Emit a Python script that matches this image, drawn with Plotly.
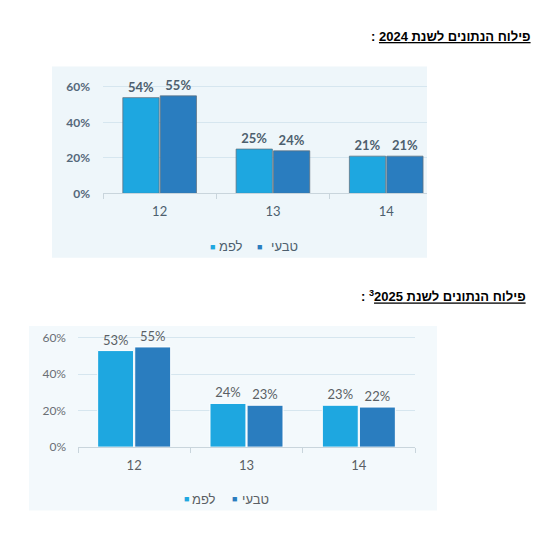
import plotly.graph_objects as go

# data
categories = ["12", "13", "14"]
series_names = ["לפמ", "טבעי"]
lapam_2024 = [54, 25, 21]
tivi_2024 = [55, 24, 21]
lapam_2025 = [53, 24, 23]
tivi_2025 = [55, 23, 22]
y_ticks = [0, 20, 40, 60]
y_ticklabels = ["0%", "20%", "40%", "60%"]
title_2024 = "פילוח הנתונים לשנת 2024"
title_2025 = "פילוח הנתונים לשנת 2025"
footnote_2025 = "3"

W, H = 551, 540
LIGHT = "#1ea7e0"
DARK = "#2a7dbf"
FONT = "Lato, 'Liberation Sans', sans-serif"


def px(x):
    return x / W


def py(y):
    return 1 - y / H


fig = go.Figure()

top_style = dict(label_color="#4d5f6e", line="rgba(95,112,126,0.75)")
bot_style = dict(label_color="#5a5f64", line="white")

# top chart (2024)
for vals, name, color in [(lapam_2024, series_names[0], LIGHT), (tivi_2024, series_names[1], DARK)]:
    fig.add_trace(go.Bar(
        x=categories, y=vals, name=name, marker_color=color,
        marker_line=dict(color=top_style["line"], width=1),
        text=[f"<b>{v}%</b>" for v in vals], textposition="outside",
        textfont=dict(family=FONT, size=13, color=top_style["label_color"]),
        cliponaxis=False, xaxis="x", yaxis="y", showlegend=False,
    ))

# bottom chart (2025)
for vals, name, color in [(lapam_2025, series_names[0], LIGHT), (tivi_2025, series_names[1], DARK)]:
    fig.add_trace(go.Bar(
        x=categories, y=vals, name=name, marker_color=color,
        marker_line=dict(color=bot_style["line"], width=1),
        text=[f"{v}%" for v in vals], textposition="outside",
        textfont=dict(family=FONT, size=13, color=bot_style["label_color"]),
        cliponaxis=False, xaxis="x2", yaxis="y2", showlegend=False,
    ))

# panel backgrounds
shapes = [
    dict(type="rect", xref="paper", yref="paper", x0=px(52), x1=px(427), y0=py(258), y1=py(62),
         fillcolor="#eef6fa", line_width=0, layer="below"),
    dict(type="rect", xref="paper", yref="paper", x0=px(29), x1=px(437), y0=py(517), y1=py(328),
         fillcolor="#f3f9fc", line_width=0, layer="below"),
]

# titles and legends as annotations (RTL text)
annotations = [
    dict(text=f"<b>: <u>{title_2024}</u></b>", x=px(533), y=py(31), xref="paper", yref="paper",
         xanchor="right", yanchor="middle", showarrow=False,
         font=dict(family="'Liberation Sans', Arial", size=13, color="black")),
    dict(text=f"<b>: <sup>{footnote_2025}</sup><u>{title_2025}</u></b>", x=px(528), y=py(297),
         xref="paper", yref="paper", xanchor="right", yanchor="middle", showarrow=False,
         font=dict(family="'Liberation Sans', Arial", size=13, color="black")),
]

legend_pos = [
    # square x, text x, y, text colour
    ([212, 259], [217, 269], 246, "#4d5f6e"),
    ([186, 234], [190, 240], 505, "#5a5f64"),
]
for sq_x, tx_x, ly, tcol in legend_pos:
    for i, (name, color) in enumerate(zip(series_names, [LIGHT, DARK])):
        annotations.append(dict(text="■", x=px(sq_x[i]), y=py(ly), xref="paper", yref="paper",
                                xanchor="center", yanchor="middle", showarrow=False,
                                font=dict(size=9, color=color)))
        annotations.append(dict(text=name, x=px(tx_x[i]), y=py(ly), xref="paper", yref="paper",
                                xanchor="left", yanchor="middle", showarrow=False,
                                font=dict(family=FONT, size=13, color=tcol)))

axis_common = dict(type="category", showgrid=False, showline=True, linecolor="#c9d5dc",
                   ticks="outside", tickson="boundaries", ticklen=5, tickcolor="#c9d5dc")
yaxis_common = dict(tickmode="array", tickvals=y_ticks, ticktext=y_ticklabels, zeroline=False,
                    showline=False, gridcolor="#d6e6ef", gridwidth=1, range=[0, 61])

fig.update_layout(
    width=W, height=H,
    margin=dict(l=0, r=0, t=0, b=0),
    paper_bgcolor="white", plot_bgcolor="rgba(0,0,0,0)",
    barmode="group", bargap=0.34, bargroupgap=0.03,
    showlegend=False,
    shapes=shapes, annotations=annotations,
    xaxis=dict(axis_common, domain=[px(103), px(427)], range=[-0.5, 2.36], anchor="y",
               tickfont=dict(family=FONT, size=13, color="#4d5f6e"), ticklabelstandoff=6),
    yaxis=dict(yaxis_common, domain=[py(192), py(192 - 61 * 109 / 60)], anchor="x",
               tickfont=dict(family=FONT, size=12, color="#55687a", weight="bold"),
               ticklabelstandoff=12),
    xaxis2=dict(axis_common, domain=[px(78), px(415)], range=[-0.5, 2.5], anchor="y2",
                tickfont=dict(family=FONT, size=13, color="#5a5f64"), ticklabelstandoff=6),
    yaxis2=dict(yaxis_common, domain=[py(452), py(452 - 61 * 112 / 60)], anchor="x2",
                tickfont=dict(family=FONT, size=12, color="#6a6f74"), ticklabelstandoff=11),
)

# page body has an 8px default margin; drop it so the figure sits at 0,0
fig.write_html(
    "out.html",
    config={"displayModeBar": False},
    post_script="document.body.style.margin='0';document.body.style.overflow='hidden';",
)
